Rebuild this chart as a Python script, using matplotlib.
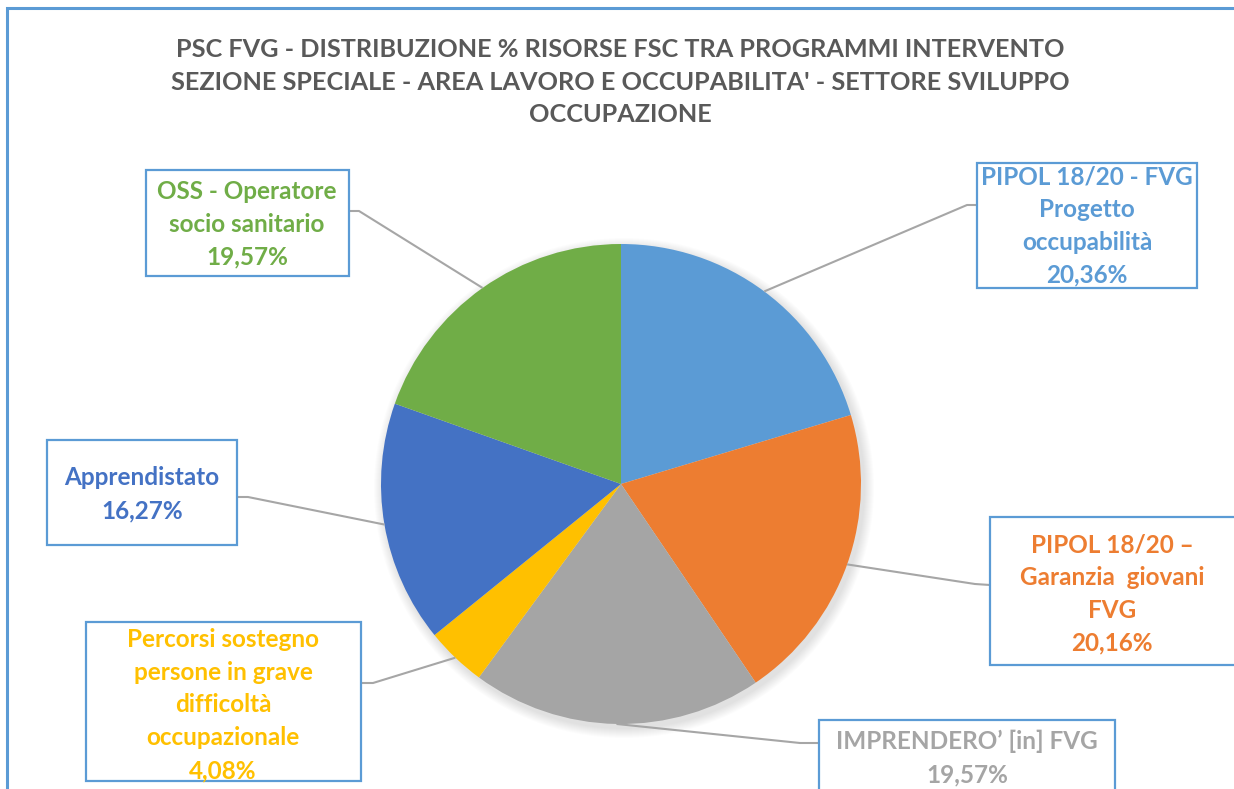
import matplotlib
matplotlib.use("Agg")
import matplotlib.pyplot as plt
from matplotlib.patches import Rectangle, Circle
import numpy as np

# ---- data ----
labels = [
    "PIPOL 18/20 - FVG\nProgetto\noccupabilità",
    "PIPOL 18/20 –\nGaranzia  giovani\nFVG",
    "IMPRENDERO’ [in] FVG",
    "Percorsi sostegno\npersone in grave\ndifficoltà\noccupazionale",
    "Apprendistato",
    "OSS - Operatore\nsocio sanitario",
]
values = [20.36, 20.16, 19.57, 4.08, 16.27, 19.57]
pct_text = ["20,36%", "20,16%", "19,57%", "4,08%", "16,27%", "19,57%"]
colors = ["#5B9BD5", "#ED7D31", "#A5A5A5", "#FFC000", "#4472C4", "#70AD47"]
title = ("PSC FVG - DISTRIBUZIONE % RISORSE FSC TRA PROGRAMMI INTERVENTO\n"
         "SEZIONE SPECIALE - AREA LAVORO E OCCUPABILITA' - SETTORE SVILUPPO\n"
         "OCCUPAZIONE")

W, H = 1234, 789
FONT = "Lato"
plt.rcParams["font.family"] = [FONT, "DejaVu Sans"]

fig = plt.figure(figsize=(W / 100, H / 100), dpi=100)
ax = fig.add_axes([0, 0, 1, 1])

def Y(v):
    return H - v

# pie
cx, cy, R = 621, Y(484), 240
for k in range(10):
    ax.add_patch(Circle((cx + 3, cy - 4), R + 10 - k, color="black",
                        alpha=0.012, lw=0, zorder=2))
wedges, _ = ax.pie(values, colors=colors, startangle=90, counterclock=False,
                   center=(cx, cy), radius=R, frame=True,
                   wedgeprops=dict(linewidth=0, zorder=3))
ax.set_xlim(0, W)
ax.set_ylim(0, H)
ax.set_aspect("equal")
ax.axis("off")

# outer chart frame
ax.add_patch(Rectangle((7, -50), 1400, Y(8) + 50, fill=False,
                       edgecolor="#5B9BD5", lw=2.2, zorder=1))

# title
ax.text(620, Y(82), title, ha="center", va="center", fontsize=18.2,
        fontweight="bold", color="#595959", linespacing=1.52)

# label boxes (layout): x0, y0, x1, y1 (pixel, top-left origin), text center, stub
boxes = [
    dict(box=(977, 163, 1197, 288), tc=(1087, 226), a=(977, 205), b=(967, 205)),
    dict(box=(990, 517, 1260, 665), tc=(1112, 594), a=(990, 585), b=(975, 584)),
    dict(box=(819, 720, 1115, 820), tc=(967, 758), a=(819, 743), b=(800, 743)),
    dict(box=(86, 622, 361, 781), tc=(223, 705), a=(361, 683), b=(373, 683)),
    dict(box=(47, 440, 237, 545), tc=(142, 494), a=(237, 497), b=(248, 497)),
    dict(box=(146, 170, 349, 276), tc=(247, 224), a=(349, 211), b=(359, 211)),
]

total = sum(values)
cum = 0.0
for i, (w, b) in enumerate(zip(wedges, boxes)):
    mid = 90 - 360 * (cum + values[i] / 2) / total
    cum += values[i]
    px = cx + R * np.cos(np.radians(mid))
    py = cy + R * np.sin(np.radians(mid))
    x0, y0, x1, y1 = b["box"]
    ax.add_patch(Rectangle((x0, Y(y1)), x1 - x0, y1 - y0, facecolor="white",
                           edgecolor="#5B9BD5", lw=1.6, zorder=5))
    ax.plot([b["a"][0], b["b"][0], px], [Y(b["a"][1]), Y(b["b"][1]), py],
            color="#A6A6A6", lw=1.5, zorder=4, solid_capstyle="butt")
    ax.text(b["tc"][0], Y(b["tc"][1]), labels[i] + "\n" + pct_text[i],
            ha="center", va="center", fontsize=17.5, fontweight="bold",
            color=colors[i], linespacing=1.52, zorder=6)

fig.savefig("out.png", dpi=100, facecolor="white")
